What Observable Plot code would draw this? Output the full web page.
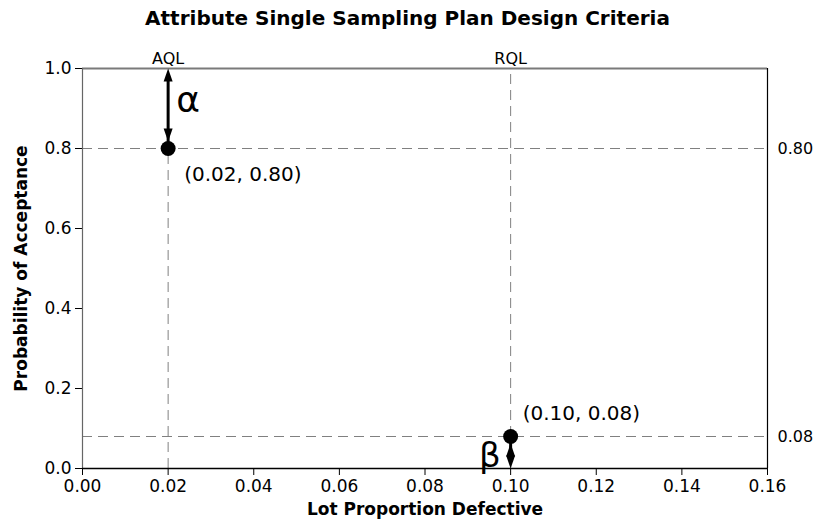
<!DOCTYPE html>
<html>
<head>
<meta charset="utf-8">
<script src="https://cdn.jsdelivr.net/npm/d3@7"></script>
<script src="https://cdn.jsdelivr.net/npm/@observablehq/plot@0.6"></script>
<style>
  body { margin: 0; background: #fff; font-family: "DejaVu Sans", sans-serif; }
  #title { height: 35px; line-height: 36px; text-align: center; font-weight: bold; font-size: 20px; color: #000; width: 815px; }
</style>
</head>
<body>
<div id="title"></div>
<div id="chart"></div>
<script>
const chartTitle = "Attribute Single Sampling Plan Design Criteria";
const xLabel = "Lot Proportion Defective";
const yLabel = "Probability of Acceptance";
const xTicks = [0, 0.02, 0.04, 0.06, 0.08, 0.10, 0.12, 0.14, 0.16];
const yTicks = [0, 0.2, 0.4, 0.6, 0.8, 1.0];
const qualityLevels = ["AQL", "RQL"];
const lotDefective = [0.02, 0.10];
const probAccept = [0.80, 0.08];
const pointLabels = ["(0.02, 0.80)", "(0.10, 0.08)"];
const refLabels = ["0.80", "0.08"];
const riskSymbols = ["α", "β"];
const riskFrom = [1.0, 0.08];
const riskTo = [0.80, 0.0];

document.getElementById("title").textContent = chartTitle;

const pts = lotDefective.map((x, i) => ({x, y: probAccept[i], name: qualityLevels[i], label: pointLabels[i], ref: refLabels[i], sym: riskSymbols[i], y1: riskFrom[i], y2: riskTo[i]}));

// arrowhead symbol with its tip at the anchor, pointing up
const headSym = {
  draw(ctx, size) {
    ctx.moveTo(0, 0);
    ctx.lineTo(-4.5, 13);
    ctx.lineTo(4.5, 13);
    ctx.closePath();
  }
};

const font = "DejaVu Sans, sans-serif";
const dash = {stroke: "#808080", strokeWidth: 1, strokeDasharray: "10,6"};

const plot = Plot.plot({
  width: 815,
  height: 490,
  marginTop: 33,
  marginLeft: 82,
  marginRight: 48,
  marginBottom: 57,
  style: {fontFamily: font, fontSize: "17px", color: "#000", background: "#fff"},
  x: {domain: [0, 0.16]},
  y: {domain: [0, 1]},
  marks: [
    Plot.axisX({ticks: xTicks, tickFormat: d3.format(".2f"), tickSize: 7, tickPadding: 4, fontSize: 17, label: null}),
    Plot.axisY({ticks: yTicks, tickFormat: d3.format(".1f"), tickSize: 7, tickPadding: 4, fontSize: 17, label: null}),
    // dashed reference lines
    Plot.ruleY(pts, {y: "y", x1: 0, x2: 0.16, ...dash}),
    Plot.ruleX(pts, {x: "x", y1: 0, y2: 1, ...dash}),
    // frame
    Plot.ruleY([1], {stroke: "#7a7a7a", strokeWidth: 2}),
    Plot.ruleX([0], {stroke: "#666", strokeWidth: 1.2}),
    Plot.ruleY([0], {stroke: "#000", strokeWidth: 1.5}),
    Plot.ruleX([0.16], {stroke: "#000", strokeWidth: 1.2}),
    // risk arrows
    Plot.ruleX(pts, {x: "x", y1: "y1", y2: "y2", stroke: "#000", strokeWidth: 3, insetTop: 6, insetBottom: 6}),
    Plot.dot(pts.slice(0, 1), {x: "x", y: "y1", symbol: headSym, fill: "#000", stroke: null, r: 5, rotate: 0}),
    Plot.dot(pts.slice(0, 1), {x: "x", y: "y2", symbol: headSym, fill: "#000", stroke: null, r: 5, rotate: 180, dy: -7}),
    Plot.dot(pts.slice(1, 2), {x: "x", y: "y1", symbol: headSym, fill: "#000", stroke: null, r: 5, rotate: 0, dy: 7}),
    Plot.dot(pts.slice(1, 2), {x: "x", y: "y2", symbol: headSym, fill: "#000", stroke: null, r: 5, rotate: 180}),
    // points
    Plot.dot(pts, {x: "x", y: "y", r: 7.5, fill: "#000", stroke: null}),
    // texts
    Plot.text(pts, {x: "x", y: 1, text: "name", lineAnchor: "bottom", dy: -5, fontSize: 16, fill: "#000"}),
    Plot.text(pts, {x: 0.16, y: "y", text: "ref", textAnchor: "start", dx: 10, fontSize: 16, fill: "#000"}),
    Plot.text(pts.slice(0, 1), {x: "x", y: "y", text: "label", textAnchor: "start", dx: 16, dy: 26, fontSize: 20, fill: "#000"}),
    Plot.text(pts.slice(1, 2), {x: "x", y: "y", text: "label", textAnchor: "start", dx: 12, dy: -23, fontSize: 20, fill: "#000"}),
    Plot.text(pts.slice(0, 1), {x: "x", y: d => (d.y1 + d.y2) / 2, text: "sym", textAnchor: "start", dx: 8, dy: -8, fontSize: 36, fill: "#000"}),
    Plot.text(pts.slice(1, 2), {x: "x", y: d => (d.y1 + d.y2) / 2, text: "sym", textAnchor: "end", dx: -10, dy: 4, fontSize: 34, fill: "#000"}),
    // axis labels
    Plot.text([xLabel], {frameAnchor: "bottom", text: d => d, dy: 46, fontWeight: "bold", fontSize: 17, fill: "#000"}),
    Plot.text([yLabel], {frameAnchor: "left", text: d => d, textAnchor: "middle", rotate: -90, dx: -61, fontWeight: "bold", fontSize: 17, fill: "#000"})
  ]
});
document.getElementById("chart").appendChild(plot);
</script>
</body>
</html>
